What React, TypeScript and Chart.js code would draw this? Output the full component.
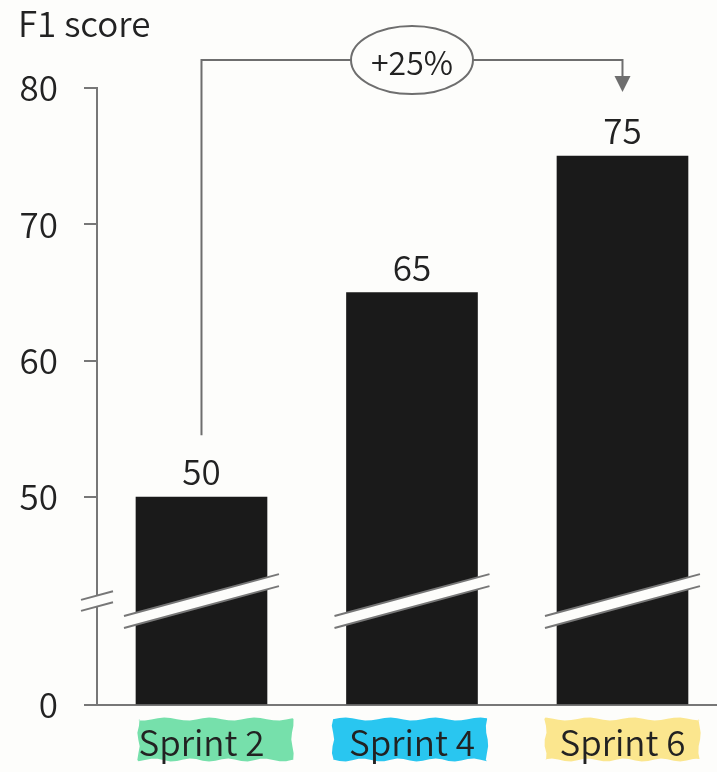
import React, { useEffect, useRef } from 'react';
import { Chart, registerables } from 'chart.js';

Chart.register(...registerables);

// ---- data ----
const categories = ['Sprint 2', 'Sprint 4', 'Sprint 6'];
const f1Scores = [50, 65, 75];
const yTickValues = [0, 50, 60, 70, 80];
const highlightColors = ['#76e0ab', '#29c6f0', '#fbe68e'];
const yAxisTitle = 'F1 score';

// ---- broken axis mapping ----
const BREAK_FROM = 50;
const GAP = 15.24;
const BREAK_AT = 7.62;
const mapValue = (v: number) => (v >= BREAK_FROM ? v - BREAK_FROM + GAP : (v * GAP) / BREAK_FROM);

const FONT = '"Noto Sans CJK SC", "Noto Sans", sans-serif';
const FS = 35;
const FW = 350;
const BG = '#fdfdfb';
const GREY = '#777777';
const INK = '#222222';
const BAR = '#1a1a1a';
const SLOPE = -0.27;

function slash(ctx: CanvasRenderingContext2D, cx: number, cy: number, halfLen: number, half: number) {
  const yAt = (x: number, off: number) => cy + SLOPE * (x - cx) + off;
  const x0 = cx - halfLen;
  const x1 = cx + halfLen;
  ctx.beginPath();
  ctx.moveTo(x0, yAt(x0, -half));
  ctx.lineTo(x1, yAt(x1, -half));
  ctx.lineTo(x1, yAt(x1, half));
  ctx.lineTo(x0, yAt(x0, half));
  ctx.closePath();
  ctx.fillStyle = BG;
  ctx.fill();
  ctx.strokeStyle = GREY;
  ctx.lineWidth = 2;
  ctx.beginPath();
  ctx.moveTo(x0, yAt(x0, -half));
  ctx.lineTo(x1, yAt(x1, -half));
  ctx.moveTo(x0, yAt(x0, half));
  ctx.lineTo(x1, yAt(x1, half));
  ctx.stroke();
}

function wavyRect(ctx: CanvasRenderingContext2D, x0: number, y0: number, w: number, h: number, seed: number) {
  const steps = 24;
  ctx.beginPath();
  for (let s = 0; s <= steps; s++) {
    const x = x0 + (w * s) / steps;
    const y = y0 + 1.5 * Math.sin(s * 0.9 + seed);
    if (s === 0) ctx.moveTo(x, y);
    else ctx.lineTo(x, y);
  }
  for (let s = 0; s <= 6; s++) {
    ctx.lineTo(x0 + w + 1.2 * Math.sin(s * 1.3 + seed), y0 + (h * s) / 6);
  }
  for (let s = steps; s >= 0; s--) {
    const x = x0 + (w * s) / steps;
    ctx.lineTo(x, y0 + h + 1.5 * Math.sin(s * 1.1 + seed * 2));
  }
  for (let s = 6; s >= 0; s--) {
    ctx.lineTo(x0 + 1.2 * Math.sin(s * 1.7 + seed), y0 + (h * s) / 6);
  }
  ctx.closePath();
  ctx.fill();
}

const decorPlugin = {
  id: 'decor',
  beforeDraw(chart: any) {
    const { ctx, width, height } = chart;
    ctx.save();
    ctx.fillStyle = BG;
    ctx.fillRect(0, 0, width, height);
    const xs = chart.scales.x;
    const bottom = chart.chartArea.bottom;
    const jitter = [0, -16, -14];
    categories.forEach((_, i) => {
      const cx = xs.getPixelForValue(i);
      ctx.fillStyle = highlightColors[i];
      wavyRect(ctx, cx - 63 + jitter[i], bottom + 14, 154, 41, i * 2 + 1);
    });
    ctx.restore();
  },
  afterDatasetsDraw(chart: any) {
    const { ctx, chartArea } = chart;
    const ys = chart.scales.y;
    const meta = chart.getDatasetMeta(0);
    ctx.save();

    // breaks
    const by = ys.getPixelForValue(BREAK_AT);
    slash(ctx, chartArea.left, by, 16, 5.5);
    meta.data.forEach((bar: any) => {
      slash(ctx, bar.x, by, bar.width / 2 + 12, 6);
    });

    // value labels
    ctx.fillStyle = INK;
    ctx.font = `${FW} ${FS}px ${FONT}`;
    ctx.textAlign = 'center';
    ctx.textBaseline = 'alphabetic';
    meta.data.forEach((bar: any, i: number) => {
      ctx.fillText(String(f1Scores[i]), bar.x, bar.y - 12);
    });

    // title
    ctx.textAlign = 'left';
    ctx.fillText(yAxisTitle, 18, 37);

    // bracket
    const first = meta.data[0];
    const last = meta.data[meta.data.length - 1];
    const topY = chartArea.top - 28;
    ctx.strokeStyle = '#6e6e6e';
    ctx.lineWidth = 2;
    ctx.beginPath();
    ctx.moveTo(first.x, first.y - 62);
    ctx.lineTo(first.x, topY);
    ctx.lineTo(last.x, topY);
    ctx.lineTo(last.x, chartArea.top - 12);
    ctx.stroke();
    ctx.fillStyle = '#6e6e6e';
    ctx.beginPath();
    ctx.moveTo(last.x - 8, chartArea.top - 12);
    ctx.lineTo(last.x + 8, chartArea.top - 12);
    ctx.lineTo(last.x, chartArea.top + 4);
    ctx.closePath();
    ctx.fill();

    const mx = (first.x + last.x) / 2;
    ctx.beginPath();
    ctx.ellipse(mx, topY, 61, 34, 0, 0, Math.PI * 2);
    ctx.fillStyle = BG;
    ctx.fill();
    ctx.strokeStyle = '#6e6e6e';
    ctx.stroke();
    const change = f1Scores[f1Scores.length - 1] - f1Scores[0];
    ctx.fillStyle = INK;
    ctx.font = `${FW} 32px ${FONT}`;
    ctx.textAlign = 'center';
    ctx.textBaseline = 'alphabetic';
    ctx.fillText(`+${change}%`, mx, topY + 15);
    ctx.restore();
  },
};

export default function App() {
  const ref = useRef<HTMLCanvasElement>(null);
  useEffect(() => {
    if (!ref.current) return;
    const chart = new Chart(ref.current, {
      type: 'bar',
      data: {
        datasets: [
          {
            data: f1Scores.map((v, i) => ({ x: i, y: mapValue(v) })),
            backgroundColor: BAR,
            borderWidth: 0,
            barThickness: 131,
          },
        ],
      },
      options: {
        responsive: false,
        animation: false,
        layout: { padding: { top: 88, right: 0, left: 0, bottom: 0 } },
        plugins: { legend: { display: false }, tooltip: { enabled: false } },
        scales: {
          x: {
            type: 'linear',
            offset: false,
            min: -0.4964,
            max: 2.449,
            afterBuildTicks: (s: any) => {
              s.ticks = categories.map((_, i) => ({ value: i }));
            },
            afterFit: (s: any) => {
              s.height = 67;
            },
            ticks: {
              callback: (v: any) => categories[v],
              font: { family: FONT, size: FS, weight: FW },
              color: INK,
              padding: 17,
              autoSkip: false,
              maxRotation: 0,
            },
            grid: { display: true, offset: false, drawOnChartArea: false, drawTicks: false, color: 'transparent' },
            border: { display: true, color: GREY, width: 2 },
          },
          y: {
            min: 0,
            max: mapValue(yTickValues[yTickValues.length - 1]),
            afterBuildTicks: (s: any) => {
              s.ticks = yTickValues.map((v) => ({ value: mapValue(v) }));
            },
            afterFit: (s: any) => {
              s.width = 97;
            },
            ticks: {
              callback: (_v: any, i: number) => String(yTickValues[i]),
              font: { family: FONT, size: FS, weight: FW },
              color: INK,
              padding: 26,
            },
            grid: { drawOnChartArea: false, drawTicks: true, tickLength: 13, color: GREY, lineWidth: 2 },
            border: { display: true, color: GREY, width: 2 },
          },
        },
      },
      plugins: [decorPlugin],
    } as any);
    return () => chart.destroy();
  }, []);
  return (
    <div style={{ position: 'absolute', left: 0, top: 0, width: 717, height: 772 }}>
      <canvas ref={ref} width={717} height={772} style={{ display: 'block' }} />
    </div>
  );
}
